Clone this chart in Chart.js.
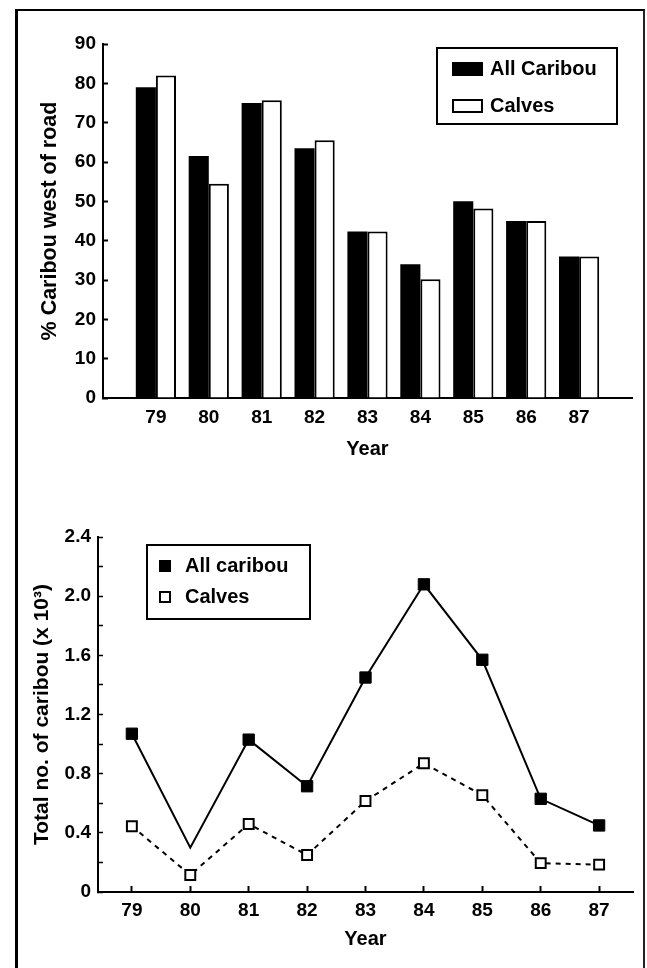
<!DOCTYPE html>
<html>
<head>
<meta charset="utf-8">
<script src="https://cdn.jsdelivr.net/npm/chart.js@4.4.1/dist/chart.umd.min.js"></script>
<style>
  html, body { margin: 0; padding: 0; background: #fff; }
  body { width: 647px; height: 968px; position: relative; overflow: hidden; }
  canvas { position: absolute; left: 0; }
  #westChart { top: 0; }
  #totalChart { top: 470px; }
  .frame {
    position: absolute; left: 15px; top: 9px; width: 625px; height: 1000px;
    border-left: 3px solid #000; border-top: 2px solid #000; border-right: 2px solid #222;
    pointer-events: none;
  }
</style>
</head>
<body>
<canvas id="westChart" width="647" height="470"></canvas>
<canvas id="totalChart" width="647" height="498"></canvas>
<div class="frame"></div>
<script>
// survey years (19xx) and their axis labels
const years = [79, 80, 81, 82, 83, 84, 85, 86, 87];
const yearLabels = ['79', '80', '81', '82', '83', '84', '85', '86', '87'];

// % of caribou found west of the road
const pctAllCaribou = [79, 61.5, 75, 63.5, 42.3, 34, 50, 45, 36];
const pctCalves = [82, 54.5, 75.7, 65.5, 42.3, 30.2, 48.2, 45, 36];

// total number of caribou (thousands)
const totalAllCaribou = [1.07, 0.3, 1.03, 0.715, 1.45, 2.08, 1.57, 0.63, 0.45];
const totalCalves = [0.445, 0.115, 0.46, 0.25, 0.615, 0.87, 0.655, 0.195, 0.185];

const FONT = '"Liberation Sans", Arial, Helvetica, sans-serif';
Chart.defaults.font.family = FONT;
Chart.defaults.font.weight = 'bold';
Chart.defaults.font.size = 19;
Chart.defaults.color = '#000';

// legend drawn inside a bordered box at a fixed spot of the canvas
const boxLegend = {
  id: 'boxLegend',
  afterDraw(chart, args, opts) {
    const ctx = chart.ctx;
    ctx.save();
    ctx.lineWidth = 2;
    ctx.strokeStyle = '#000';
    ctx.strokeRect(opts.left, opts.top, opts.width, opts.height);
    ctx.font = 'bold ' + opts.fontSize + 'px ' + FONT;
    ctx.textBaseline = 'middle';
    chart.data.datasets.forEach((ds, i) => {
      const y = opts.top + opts.firstRow + i * opts.rowGap;
      const s = opts.swatch;
      ctx.fillStyle = ds.legendFill;
      ctx.fillRect(opts.markX, y - s.h / 2, s.w, s.h);
      ctx.lineWidth = 2;
      ctx.strokeRect(opts.markX, y - s.h / 2, s.w, s.h);
      ctx.fillStyle = '#000';
      ctx.fillText(ds.label, opts.textX, y);
    });
    ctx.restore();
  }
};

function yearAxis(min, max, opts) {
  return {
    type: 'linear',
    min: min,
    max: max,
    offset: false,
    afterBuildTicks: (scale) => { scale.ticks = years.map(v => ({ value: v })); },
    afterFit: (scale) => { scale.height = opts.height; },
    grid: { display: true, offset: false, drawOnChartArea: false, drawTicks: opts.ticks, tickLength: -6, tickColor: '#000', tickWidth: 2 },
    border: { display: true, color: '#000', width: 2 },
    ticks: { padding: opts.padding, maxRotation: 0, autoSkip: false, callback: (v, i) => yearLabels[i] },
    title: { display: true, text: 'Year', font: { size: 20, weight: 'bold' }, padding: 0 }
  };
}

new Chart(document.getElementById('westChart'), {
  type: 'bar',
  plugins: [boxLegend],
  data: {
    labels: years,
    datasets: [
      { label: 'All Caribou', data: pctAllCaribou, backgroundColor: '#000', borderWidth: 0, legendFill: '#000' },
      { label: 'Calves', data: pctCalves, backgroundColor: '#fff', borderColor: '#000', borderWidth: 2, legendFill: '#fff' }
    ]
  },
  options: {
    responsive: false,
    animation: false,
    layout: { padding: { left: 30, right: 15, top: 44, bottom: 9 } },
    categoryPercentage: 0.76,
    barPercentage: 1.0,
    plugins: {
      legend: { display: false },
      tooltip: { enabled: false },
      boxLegend: { left: 437, top: 48, width: 180, height: 76, firstRow: 21, rowGap: 37,
                   markX: 453, textX: 490, fontSize: 20, swatch: { w: 29, h: 12 } }
    },
    scales: {
      x: yearAxis(78, 88, { height: 63, ticks: false, padding: 8 }),
      y: {
        min: 0, max: 90,
        afterFit: (scale) => { scale.width = 73; },
        grid: { display: true, drawOnChartArea: false, tickLength: -5, tickColor: '#000', tickWidth: 2 },
        border: { display: true, color: '#000', width: 2 },
        ticks: { stepSize: 10, padding: 12 },
        title: { display: true, text: '% Caribou west of road', font: { size: 21.5, weight: 'bold' }, padding: { top: 7 } }
      }
    }
  }
});

new Chart(document.getElementById('totalChart'), {
  type: 'line',
  plugins: [boxLegend],
  data: {
    labels: years,
    datasets: [
      {
        label: 'All caribou', data: totalAllCaribou,
        borderColor: '#000', borderWidth: 2, tension: 0,
        pointStyle: 'rect', pointRadius: [8, 0, 8, 8, 8, 8, 8, 8, 8],
        pointBackgroundColor: '#000', pointBorderColor: '#000', pointBorderWidth: 1,
        legendFill: '#000'
      },
      {
        label: 'Calves', data: totalCalves,
        borderColor: '#000', borderWidth: 2, borderDash: [5, 5], tension: 0,
        pointStyle: 'rect', pointRadius: 7,
        pointBackgroundColor: '#fff', pointBorderColor: '#000', pointBorderWidth: 2,
        legendFill: '#fff'
      }
    ]
  },
  options: {
    responsive: false,
    animation: false,
    layout: { padding: { left: 25, right: 14, top: 67, bottom: 17 } },
    plugins: {
      legend: { display: false },
      tooltip: { enabled: false },
      boxLegend: { left: 147, top: 75, width: 163, height: 74, firstRow: 21, rowGap: 31,
                   markX: 160, textX: 185, fontSize: 20, swatch: { w: 10, h: 10 } }
    },
    scales: {
      x: yearAxis(78.42, 87.58, { height: 59, ticks: true, padding: 13 }),
      y: {
        min: 0, max: 2.4,
        afterFit: (scale) => { scale.width = 73; },
        grid: { display: true, drawOnChartArea: false, tickLength: -5, tickColor: '#000', tickWidth: 1.5 },
        border: { display: true, color: '#000', width: 2 },
        ticks: {
          stepSize: 0.2, padding: 12,
          callback: (v) => {
            const q = v / 0.4;
            if (Math.abs(q - Math.round(q)) > 1e-6) return '';
            return v === 0 ? '0' : v.toFixed(1);
          }
        },
        title: { display: true, text: 'Total no. of caribou (x 10³)', font: { size: 21, weight: 'bold' }, padding: { top: 5 } }
      }
    }
  }
});
</script>
</body>
</html>
